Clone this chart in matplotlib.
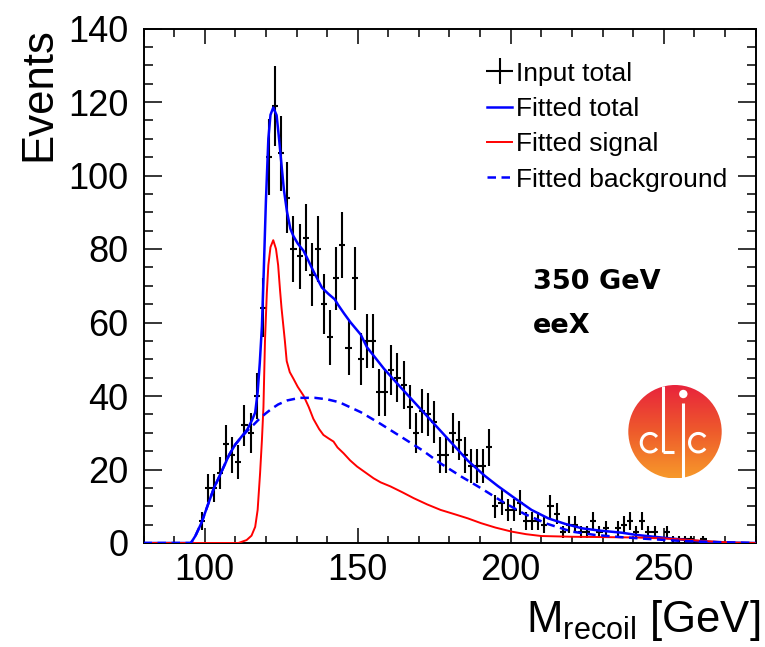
import numpy as np
import matplotlib
matplotlib.use('Agg')
import matplotlib.pyplot as plt
from matplotlib.ticker import MultipleLocator
from matplotlib.patches import Circle, Arc
from matplotlib.colors import LinearSegmentedColormap

plt.rcParams['font.family'] = ['Liberation Sans', 'DejaVu Sans']
plt.rcParams['mathtext.fontset'] = 'custom'
plt.rcParams['mathtext.rm'] = 'Liberation Sans'
plt.rcParams['mathtext.it'] = 'Liberation Sans:italic'
plt.rcParams['mathtext.bf'] = 'Liberation Sans:bold'

# ---- data: histogram (2 GeV bins, centres 99..263) ----
bin_centers = np.arange(99, 265, 2)
counts = [6, 15, 15, 19, 27, 24, 22, 32, 30, 40,
          64, 105, 119, 106, 94, 80, 78, 83, 73, 80,
          65, 56, 72, 81, 53, 72, 50, 55, 55, 41,
          41, 47, 45, 43, 37, 30, 36, 35, 33, 24,
          24, 30, 28, 24, 21, 21, 21, 26, 10, 11,
          9, 9, 11, 6, 6, 6, 5, 10, 8, 3,
          5, 5, 3, 3, 6, 3, 4, 0, 4, 5,
          6, 3, 6, 3, 3, 0, 3, 1, 1, 1,
          1, 0, 1]

# ---- fitted curves ----
total_x = [80, 95.5, 97, 99, 101, 103, 105, 108, 110, 112, 114, 115.5, 116.5, 117.3,
           118, 118.7, 119.3, 120, 120.8, 121.5, 122.4, 123.5, 124.3, 125.2, 125.9,
           126.9, 128, 129, 130.4, 132.3, 133.5, 135.5, 138.3, 140.4, 142.5, 143.6,
           145.5, 147.6, 151, 153, 158.6, 164, 169.5, 175, 180.5, 186, 191.5, 195.8,
           201.3, 206.8, 212.3, 217.8, 223.3, 228.8, 236.3, 241, 251.5, 262.5, 270, 280]
total_y = [0, 0, 2, 5.6, 10.3, 14.9, 18.5, 24, 26.8, 28.9, 31.0, 33.5, 35.5, 41,
           49, 59, 74, 93, 110, 116.5, 118.5, 116.4, 110, 102, 96,
           90.1, 85.5, 83.5, 81.5, 79.5, 77.5, 74, 69.5, 67.8, 66.3, 64.8,
           62.5, 60.1, 56.7, 53.3, 47.4, 42.4, 37.4, 32.4, 27.4, 22.4, 18.3, 15.5,
           12.2, 9, 6.7, 5.2, 4, 3.4, 2.8, 2.2, 1.3, 0.4, 0.1, 0]

signal_x = [80, 111, 113.7, 115.3, 116.5, 117.3, 118.1, 118.7, 119.2, 119.7, 120.3,
            120.8, 121.5, 122.4, 123.3, 124, 124.6, 125.1, 126.2, 126.8, 127.8, 129,
            130.4, 132.3, 134, 135.5, 137.4, 138.8, 140.4, 142.1, 143.4, 145.4, 147.5,
            149.8, 152.5, 155.2, 157.5, 160.7, 164.6, 168.3, 172.7, 177.1, 181.8, 186,
            190.3, 195, 200.3, 205, 210, 220, 231, 241, 251, 259, 266, 273, 280]
signal_y = [0, 0, 0.8, 2, 4.4, 9, 19, 28, 37, 55, 68,
            75.6, 80.5, 82.4, 80, 75.6, 69, 64, 55, 49.5, 46.5, 44.7,
            42.5, 40.1, 37, 33.8, 31, 29.4, 28.5, 27.6, 26, 24.4, 22.5,
            20.8, 19.2, 17.6, 16.5, 15.4, 13.8, 12.2, 10.5, 9, 7.8, 6.7,
            5.4, 4.2, 3.1, 2.4, 1.9, 1.7, 1.6, 1.5, 1.2, 0.8, 0.4, 0.1, 0]

background_x = [80, 95.5, 97, 99, 101, 103, 105, 108, 110, 112, 114, 116, 118, 120,
                122, 124, 127, 131, 136, 140, 144, 151, 157.5, 164, 171, 177, 184,
                190.5, 197, 204.5, 212, 220, 227.5, 236, 245, 255, 265, 280]
background_y = [0, 0, 2, 5.6, 10.3, 14.9, 18.5, 24, 26.8, 28.8, 30.6, 32.2, 33.9, 35.3,
                36.6, 37.7, 38.8, 39.5, 39.5, 39.1, 38.3, 35.6, 32.4, 29, 25.3, 21.7, 18,
                14.8, 11.4, 7.9, 5.2, 3.1, 2.2, 1.6, 1.1, 0.6, 0.3, 0]

W, H = 765, 647
fig = plt.figure(figsize=(W / 100, H / 100), dpi=100)
ax = fig.add_axes([143.5 / W, 104 / H, 612 / W, 514.5 / H])

cnt = np.array(counts, dtype=float)
mask = cnt > 0
eb = ax.errorbar(bin_centers[mask], cnt[mask], xerr=1.0, yerr=np.sqrt(cnt[mask]),
                 fmt='none', ecolor='black', elinewidth=1.5, capsize=0,
                 label='Input total', zorder=2)
l_tot, = ax.plot(total_x, total_y, color='#0000ff', lw=1.8, label='Fitted total', zorder=3)
l_sig, = ax.plot(signal_x, signal_y, color='#ff0000', lw=1.4, label='Fitted signal', zorder=3)
l_bg, = ax.plot(background_x, background_y, color='#0000ff', lw=1.8, ls=(0, (3.4, 2.2)),
                label='Fitted background', zorder=3)

ax.set_xlim(80, 280)
ax.set_ylim(0, 140)
ax.xaxis.set_major_locator(MultipleLocator(50))
ax.xaxis.set_minor_locator(MultipleLocator(10))
ax.yaxis.set_major_locator(MultipleLocator(20))
ax.yaxis.set_minor_locator(MultipleLocator(5))
ax.tick_params(which='both', direction='in', top=True, right=True, width=1.1,
               labelsize=26, colors='black')
ax.xaxis.set_tick_params(which='major', length=10.8, pad=7)
ax.xaxis.set_tick_params(which='minor', length=5.4)
ax.yaxis.set_tick_params(which='major', length=13, pad=11)
ax.yaxis.set_tick_params(which='minor', length=6.5)
for s in ax.spines.values():
    s.set_linewidth(1.4)

ax.set_ylabel('Events', fontsize=31.5, loc='top')
ax.yaxis.label.set_verticalalignment('baseline')
ax.yaxis.set_label_coords((50 - 143.5) / 612, (543 - 27) / 514.5)
ax.set_xlabel(r'$\mathrm{M_{recoil}}$ [GeV]', fontsize=31.5, loc='right')
ax.xaxis.label.set_verticalalignment('baseline')
ax.xaxis.set_label_coords((760 - 143.5) / 612, (543 - 631.7) / 514.5)

leg = ax.legend(handles=[eb, l_tot, l_sig, l_bg], loc='upper left',
                bbox_to_anchor=(487 / W, 1 - 61.5 / H), bbox_transform=fig.transFigure,
                frameon=False, fontsize=19, borderpad=0, borderaxespad=0,
                handlelength=0.95, handletextpad=0.15, labelspacing=0.43)

fig.text(533 / W, 1 - 289.3 / H, '350 GeV', fontsize=19.5, fontweight='bold',
         family='DejaVu Sans', va='baseline', ha='left')
fig.text(533 / W, 1 - 332.7 / H, 'eeX', fontsize=19.5, fontweight='bold',
         family='DejaVu Sans', va='baseline', ha='left')

# ---- CLIC logo ----
cx, cy = 675, H - 431.7
lax = fig.add_axes([(cx - 55) / W, (cy - 55) / H, 110 / W, 110 / H])
lax.set_xlim(-55, 55)
lax.set_ylim(-55, 55)
lax.set_aspect('equal')
lax.axis('off')
R = 46.7
grad = np.linspace(0, 1, 256)[:, None]
cmap = LinearSegmentedColormap.from_list('clic', ['#e8223c', '#ee5a2c', '#f7992a'])
im = lax.imshow(grad, extent=[-R, R, -R, R], cmap=cmap, origin='upper', aspect='auto')
clip = Circle((0, 0), R, transform=lax.transData)
im.set_clip_path(clip)
wl = 2.2
lax.plot([-11.7, -11.7], [45.5, -20], color='white', lw=wl, solid_capstyle='butt')
lax.plot([-11.7, -1], [-20, -20], color='white', lw=wl, solid_capstyle='butt')
lax.plot([8.3, 8.3], [28.7, -46.5], color='white', lw=wl, solid_capstyle='butt')
lax.add_patch(Circle((8.3, 37.7), 4.2, color='white', lw=0))
lax.add_patch(Arc((-25, -11), 17.5, 18.5, theta1=40, theta2=320, color='white', lw=wl))
lax.add_patch(Arc((23.3, -11), 17.5, 18.5, theta1=40, theta2=320, color='white', lw=wl))

fig.savefig('out.png', dpi=100)
